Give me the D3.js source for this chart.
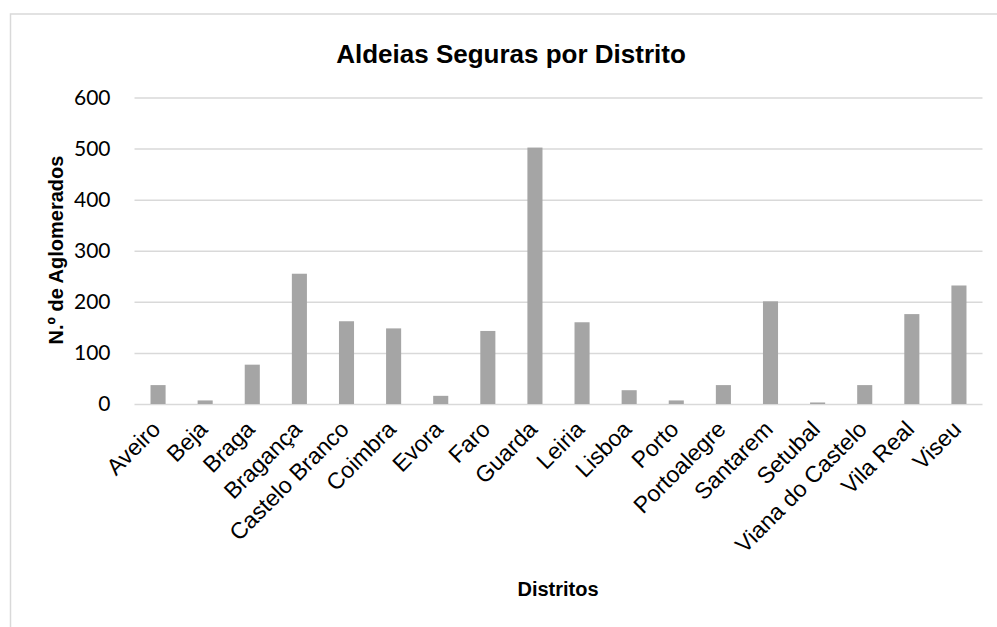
<!DOCTYPE html>
<html>
<head>
<meta charset="utf-8">
<script src="https://cdn.jsdelivr.net/npm/d3@7"></script>
<style>
  body { margin: 0; background: #fff; }
  svg { display: block; }
</style>
</head>
<body>
<script>
const districts = ['Aveiro', 'Beja', 'Braga', 'Bragança', 'Castelo Branco', 'Coimbra', 'Evora',
                   'Faro', 'Guarda', 'Leiria', 'Lisboa', 'Porto', 'Portoalegre', 'Santarem',
                   'Setubal', 'Viana do Castelo', 'Vila Real', 'Viseu'];
const aglomerados = [37, 7, 77, 255, 162, 148, 16, 143, 502, 160, 27, 7, 37, 201, 3, 37, 176, 232];
const yTicks = [0, 100, 200, 300, 400, 500, 600];

const width = 997,
      height = 627;

const x = d3.scaleBand()
            .domain(districts)
            .range([134.5, 982.5])
            .paddingInner(0.68)
            .paddingOuter(0.34);

const y = d3.scaleLinear()
            .domain([0, 600])
            .range([404, 97.5]);

const svg = d3.select('body')
              .append('svg')
              .attr('width', width)
              .attr('height', height);

// chart area border (runs off the right and bottom edges)
svg.append('rect')
   .attr('x', 10.5)
   .attr('y', 14)
   .attr('width', 1000)
   .attr('height', 700)
   .attr('fill', 'none')
   .attr('stroke', '#d9d9d9')
   .attr('stroke-width', 1.5);

svg.append('text')
   .attr('x', 511)
   .attr('y', 63)
   .attr('text-anchor', 'middle')
   .style('font-family', '"Liberation Sans", Arial, sans-serif')
   .style('font-weight', 'bold')
   .style('font-size', '26px')
   .text('Aldeias Seguras por Distrito');

const yAxis = d3.axisLeft(y)
                .tickValues(yTicks)
                .tickSize(-(982.5 - 134.5))
                .tickPadding(24);

svg.append('g')
   .attr('transform', 'translate(134.5, 0)')
   .call(yAxis)
   .call(g => g.select('.domain').remove())
   .call(g => g.selectAll('.tick line')
               .attr('stroke', '#d9d9d9')
               .attr('stroke-width', 1.5))
   .call(g => g.selectAll('.tick text')
               .attr('fill', '#000')
               .style('font-family', 'Lato, "Open Sans", sans-serif')
               .style('font-size', '21px'));

svg.append('g')
   .selectAll('rect')
   .data(aglomerados)
   .enter()
   .append('rect')
   .attr('x', (d, i) => x(districts[i]))
   .attr('y', d => y(d))
   .attr('width', x.bandwidth())
   .attr('height', d => y(0) - y(d))
   .attr('fill', '#a5a5a5');

// category labels at -45 degrees
svg.append('g')
   .selectAll('text')
   .data(districts)
   .enter()
   .append('text')
   .attr('transform', d => 'translate(' + (x(d) + x.bandwidth() / 2 - 2) + ', 425) rotate(-45)')
   .attr('text-anchor', 'end')
   .attr('dy', '0.35em')
   .style('font-family', '"Liberation Sans", Arial, sans-serif')
   .style('font-size', '23px')
   .text(d => d);

svg.append('text')
   .attr('transform', 'translate(63, 250) rotate(-90)')
   .attr('text-anchor', 'middle')
   .style('font-family', '"Liberation Sans", Arial, sans-serif')
   .style('font-weight', 'bold')
   .style('font-size', '20px')
   .text('N.º de Aglomerados');

svg.append('text')
   .attr('x', 558)
   .attr('y', 596)
   .attr('text-anchor', 'middle')
   .style('font-family', '"Liberation Sans", Arial, sans-serif')
   .style('font-weight', 'bold')
   .style('font-size', '20px')
   .text('Distritos');
</script>
</body>
</html>
